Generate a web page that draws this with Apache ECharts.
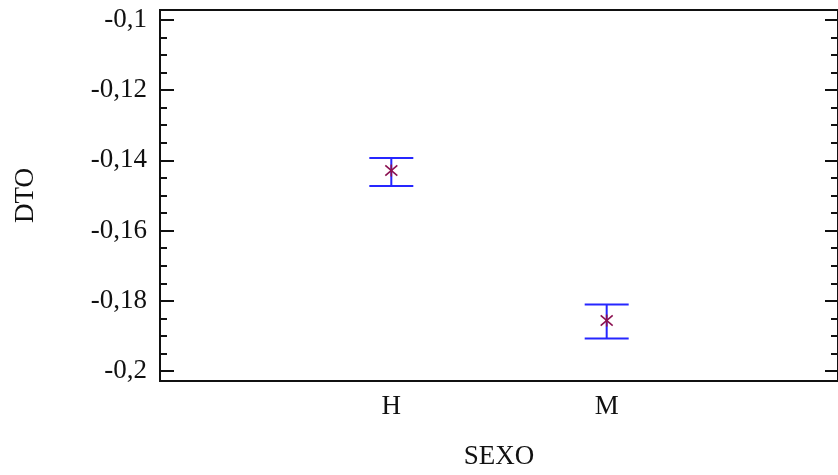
<!DOCTYPE html>
<html>
<head>
<meta charset="utf-8">
<script src="https://cdn.jsdelivr.net/npm/echarts@6/dist/echarts.min.js"></script>
<style>
  html, body { margin: 0; padding: 0; background: #fff; }
  #chart { width: 838px; height: 475px; }
</style>
</head>
<body>
<div id="chart"></div>
<script>
// categories and the mean / interval values
const categories = ["H", "M"];
const means = [-0.1429, -0.1856];
const lows = [-0.1473, -0.1907];
const highs = [-0.1393, -0.1810];
const majorTicks = [-0.2, -0.18, -0.16, -0.14, -0.12, -0.1];
const minorTicks = [-0.195, -0.19, -0.185, -0.175, -0.17, -0.165, -0.155, -0.15, -0.145,
  -0.135, -0.13, -0.125, -0.115, -0.11, -0.105];

const font = "Liberation Serif";
const yMin = -0.2028, yMax = -0.0972;

const rows = categories.map((c, i) => [i + 1, lows[i], highs[i], means[i]]);

const fmt = (v) => String(+v.toFixed(3)).replace(".", ",");

// an axis that only draws ticks (inside the frame)
const tickAxis = (pos, values, len) => ({
  type: "value",
  position: pos,
  min: yMin,
  max: yMax,
  axisLine: { show: false },
  splitLine: { show: false },
  axisTick: {
    show: true,
    inside: true,
    length: len,
    customValues: values,
    lineStyle: { color: "#111", width: 2 },
  },
  axisLabel: { show: false },
});

const myChart = echarts.init(document.getElementById("chart"));

const option = {
  backgroundColor: "#fff",
  animation: false,
  grid: {
    left: 160,
    top: 10,
    width: 683,
    height: 373,
    show: true,
    borderColor: "#111",
    borderWidth: 2,
  },
  xAxis: {
    type: "value",
    min: -0.074,
    max: 3.074,
    name: "SEXO",
    nameLocation: "middle",
    nameGap: 62,
    nameTextStyle: { fontFamily: font, fontSize: 27, color: "#111" },
    axisLine: { show: false },
    axisTick: { show: false },
    splitLine: { show: false },
    axisLabel: {
      customValues: [1, 2],
      formatter: (v) => categories[Math.round(v) - 1] || "",
      fontFamily: font,
      fontSize: 27,
      color: "#111",
      margin: 12,
    },
  },
  yAxis: [
    {
      type: "value",
      position: "left",
      min: yMin,
      max: yMax,
      name: "DTO",
      nameLocation: "middle",
      nameGap: 121,
      nameTextStyle: { fontFamily: font, fontSize: 27, color: "#111" },
      axisLine: { show: false },
      axisTick: { show: false },
      splitLine: { show: false },
      axisLabel: {
        customValues: majorTicks,
        formatter: fmt,
        fontFamily: font,
        fontSize: 27,
        color: "#111",
        margin: 13,
      },
    },
    tickAxis("left", majorTicks, 14),
    tickAxis("left", minorTicks, 7),
    tickAxis("right", majorTicks, 13),
    tickAxis("right", minorTicks, 7),
  ],
  series: [
    {
      type: "custom",
      data: rows,
      encode: { x: 0, y: [1, 2, 3] },
      renderItem: (params, api) => {
        const x = api.value(0);
        const lo = api.coord([x, api.value(1)]);
        const hi = api.coord([x, api.value(2)]);
        const mid = api.coord([x, api.value(3)]);
        const cap = 22;
        const s = 6;
        const blue = { stroke: "#2626ff", lineWidth: 2 };
        const star = { stroke: "#8b1050", lineWidth: 1.6 };
        return {
          type: "group",
          children: [
            { type: "line", shape: { x1: lo[0], y1: lo[1], x2: hi[0], y2: hi[1] }, style: blue },
            { type: "line", shape: { x1: lo[0] - cap, y1: lo[1], x2: lo[0] + cap, y2: lo[1] }, style: blue },
            { type: "line", shape: { x1: hi[0] - cap, y1: hi[1], x2: hi[0] + cap, y2: hi[1] }, style: blue },
            { type: "line", shape: { x1: mid[0] - s, y1: mid[1] - s * 0.85, x2: mid[0] + s, y2: mid[1] + s * 0.85 }, style: star },
            { type: "line", shape: { x1: mid[0] - s, y1: mid[1] + s * 0.85, x2: mid[0] + s, y2: mid[1] - s * 0.85 }, style: star },
            { type: "line", shape: { x1: mid[0], y1: mid[1] - s, x2: mid[0], y2: mid[1] + s }, style: star },
          ],
        };
      },
    },
  ],
};

myChart.setOption(option);
</script>
</body>
</html>
